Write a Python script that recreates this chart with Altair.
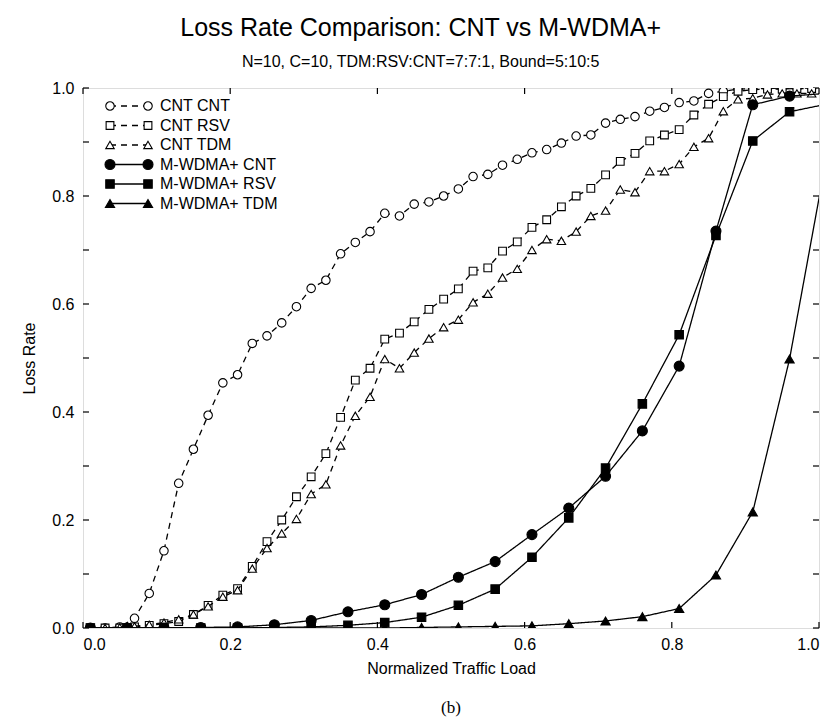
import altair as alt
import pandas as pd

# ---------------- data ----------------
cnt_load = [0.01, 0.03, 0.05, 0.07, 0.09, 0.11, 0.13, 0.15, 0.17, 0.19,
            0.21, 0.23, 0.25, 0.27, 0.29, 0.31, 0.33, 0.35, 0.37, 0.39,
            0.41, 0.43, 0.45, 0.47, 0.49, 0.51, 0.53, 0.55, 0.57, 0.59,
            0.61, 0.63, 0.65, 0.67, 0.69, 0.71, 0.73, 0.75, 0.77, 0.79,
            0.81, 0.83, 0.85, 0.87, 0.89, 0.91, 0.93, 0.95, 0.97, 0.99]

cnt_cnt = [0.0, 0.0, 0.002, 0.018, 0.064, 0.143, 0.268, 0.331, 0.394, 0.454,
           0.469, 0.527, 0.541, 0.565, 0.595, 0.629, 0.644, 0.693, 0.714, 0.734,
           0.768, 0.763, 0.785, 0.789, 0.800, 0.813, 0.836, 0.840, 0.857, 0.868,
           0.880, 0.886, 0.898, 0.911, 0.913, 0.935, 0.942, 0.947, 0.957, 0.964,
           0.973, 0.976, 0.990, 0.994, 0.998, 0.999, 0.999, 1.0, 1.0, 1.0]

cnt_rsv = [0.0, 0.0, 0.0, 0.002, 0.005, 0.008, 0.012, 0.025, 0.042, 0.061,
           0.073, 0.114, 0.160, 0.200, 0.243, 0.280, 0.323, 0.390, 0.459, 0.481,
           0.535, 0.546, 0.567, 0.590, 0.609, 0.628, 0.661, 0.667, 0.698, 0.715,
           0.742, 0.756, 0.780, 0.800, 0.814, 0.839, 0.864, 0.879, 0.902, 0.913,
           0.923, 0.950, 0.970, 0.984, 0.994, 0.997, 0.998, 0.998, 0.999, 0.999]

cnt_tdm = [0.0, 0.0, 0.001, 0.003, 0.006, 0.010, 0.016, 0.025, 0.040, 0.058,
           0.070, 0.110, 0.148, 0.175, 0.202, 0.248, 0.266, 0.338, 0.393, 0.428,
           0.498, 0.481, 0.510, 0.536, 0.557, 0.571, 0.603, 0.619, 0.649, 0.665,
           0.700, 0.720, 0.717, 0.734, 0.763, 0.773, 0.812, 0.807, 0.846, 0.846,
           0.859, 0.891, 0.907, 0.957, 0.979, 0.981, 0.988, 0.990, 0.990, 0.990]

mw_load = [0.01, 0.06, 0.11, 0.16, 0.21, 0.26, 0.31, 0.36, 0.41, 0.46,
           0.51, 0.56, 0.61, 0.66, 0.71, 0.76, 0.81, 0.86, 0.91, 0.96, 1.01]

mw_cnt = [0.0, 0.0, 0.0, 0.001, 0.002, 0.006, 0.014, 0.030, 0.043, 0.062,
          0.094, 0.123, 0.173, 0.222, 0.281, 0.365, 0.485, 0.735, 0.969, 0.985, 0.990]

mw_rsv = [0.0, 0.0, 0.0, 0.0, 0.0, 0.001, 0.002, 0.005, 0.010, 0.020,
          0.042, 0.072, 0.131, 0.204, 0.296, 0.415, 0.543, 0.727, 0.902, 0.956, 0.970]

mw_tdm = [0.0, 0.0, 0.0, 0.0, 0.0, 0.0, 0.0, 0.0, 0.0, 0.001,
          0.002, 0.003, 0.004, 0.008, 0.013, 0.021, 0.036, 0.098, 0.215, 0.498, 0.870]

series_names = ["CNT CNT", "CNT RSV", "CNT TDM",
                "M-WDMA+ CNT", "M-WDMA+ RSV", "M-WDMA+ TDM"]
x_tick_values = [0.0, 0.2, 0.4, 0.6, 0.8, 1.0]
y_tick_values = [0.0, 0.1, 0.2, 0.3, 0.4, 0.5, 0.6, 0.7, 0.8, 0.9, 1.0]
y_label_values = [0.0, 0.2, 0.4, 0.6, 0.8, 1.0]

# ---------------- styling ----------------
FONT = "Liberation Sans"
W, H = 736, 540
styles = {
    "CNT CNT":     dict(shape="circle",      fill="white", dash=[6, 5], size=72),
    "CNT RSV":     dict(shape="square",      fill="white", dash=[6, 5], size=60),
    "CNT TDM":     dict(shape="triangle-up", fill="white", dash=[6, 5], size=72),
    "M-WDMA+ CNT": dict(shape="circle",      fill="black", dash=[1, 0], size=100),
    "M-WDMA+ RSV": dict(shape="square",      fill="black", dash=[1, 0], size=72),
    "M-WDMA+ TDM": dict(shape="triangle-up", fill="black", dash=[1, 0], size=85),
}

series_data = {
    "CNT CNT": (cnt_load, cnt_cnt),
    "CNT RSV": (cnt_load, cnt_rsv),
    "CNT TDM": (cnt_load, cnt_tdm),
    "M-WDMA+ CNT": (mw_load, mw_cnt),
    "M-WDMA+ RSV": (mw_load, mw_rsv),
    "M-WDMA+ TDM": (mw_load, mw_tdm),
}

xscale = alt.Scale(domain=[0, 1], nice=False, zero=False)
yscale = alt.Scale(domain=[0, 1], nice=False, zero=False)

X = alt.X("load:Q", scale=xscale,
          axis=alt.Axis(values=x_tick_values, format=".1f", ticks=False, grid=False,
                        domain=False, title="Normalized Traffic Load",
                        labelFontSize=16, titleFontSize=16, labelPadding=8,
                        titlePadding=8, labelFont=FONT, titleFont=FONT,
                        titleFontWeight="normal", labelColor="black", titleColor="black"))
Y = alt.Y("loss:Q", scale=yscale,
          axis=alt.Axis(values=y_label_values, format=".1f", ticks=False, grid=False,
                        domain=False, title="Loss Rate",
                        labelFontSize=16, titleFontSize=16, labelPadding=9,
                        titlePadding=14, labelFont=FONT, titleFont=FONT,
                        titleFontWeight="normal", labelColor="black", titleColor="black"))

layers = []

# inward tick marks on all four sides
ydf = pd.DataFrame({"loss": y_tick_values})
xdf = pd.DataFrame({"load": x_tick_values})
layers.append(alt.Chart(ydf).mark_rule(color="black", strokeWidth=1.2).encode(
    y=Y, x=alt.value(0), x2=alt.value(6)))
layers.append(alt.Chart(ydf).mark_rule(color="black", strokeWidth=1.2).encode(
    y=Y, x=alt.value(W - 6), x2=alt.value(W)))
layers.append(alt.Chart(xdf).mark_rule(color="black", strokeWidth=1.2).encode(
    x=X, y=alt.value(H - 6), y2=alt.value(H)))
layers.append(alt.Chart(xdf).mark_rule(color="black", strokeWidth=1.2).encode(
    x=X, y=alt.value(0), y2=alt.value(6)))

for name in series_names:
    xs, ys = series_data[name]
    df = pd.DataFrame({"load": xs, "loss": ys, "series": name})
    st = styles[name]
    layers.append(alt.Chart(df).mark_line(color="black", strokeWidth=1.3,
                                          strokeDash=st["dash"], clip=True).encode(x=X, y=Y))
    layers.append(alt.Chart(df).mark_point(shape=st["shape"], filled=True, fill=st["fill"],
                                           stroke="black", strokeWidth=1.1, opacity=1,
                                           size=st["size"], clip=True).encode(x=X, y=Y))

# legend (top-left, inside plot)
one = pd.DataFrame({"a": [0]})
for i, name in enumerate(series_names):
    st = styles[name]
    ly = 18 + 19.5 * i
    layers.append(alt.Chart(one).mark_rule(color="black", strokeWidth=1.3,
                                           strokeDash=st["dash"]).encode(
        x=alt.value(27), x2=alt.value(65), y=alt.value(ly)))
    for lx in (27, 65):
        layers.append(alt.Chart(one).mark_point(shape=st["shape"], filled=True, fill=st["fill"],
                                                stroke="black", strokeWidth=1.1, opacity=1,
                                                size=st["size"]).encode(
            x=alt.value(lx), y=alt.value(ly)))
    layers.append(alt.Chart(one).mark_text(align="left", baseline="middle", fontSize=16,
                                           font=FONT, color="black").encode(
        x=alt.value(77), y=alt.value(ly), text=alt.value(name)))

# caption "(b)"
layers.append(alt.Chart(one).mark_text(align="center", baseline="middle", fontSize=17,
                                       font="Liberation Serif", color="black").encode(
    x=alt.value(W / 2), y=alt.value(H + 80), text=alt.value("(b)")))

chart = alt.layer(*layers).properties(
    width=W, height=H,
    title=alt.TitleParams(
        "Loss Rate Comparison: CNT vs M-WDMA+",
        subtitle="N=10, C=10, TDM:RSV:CNT=7:7:1, Bound=5:10:5",
        fontSize=25, subtitleFontSize=16, font=FONT, subtitleFont=FONT,
        fontWeight="normal", color="black", subtitleColor="black",
        anchor="middle", frame="bounds", offset=10, subtitlePadding=13),
    autosize=alt.AutoSizeParams(type="none"),
    padding={"left": 83, "top": 88, "right": 16, "bottom": 93},
).configure_view(stroke="black", strokeWidth=1.5).configure(background="white")

chart.save("out.html", embed_options={"renderer": "svg", "actions": False})
